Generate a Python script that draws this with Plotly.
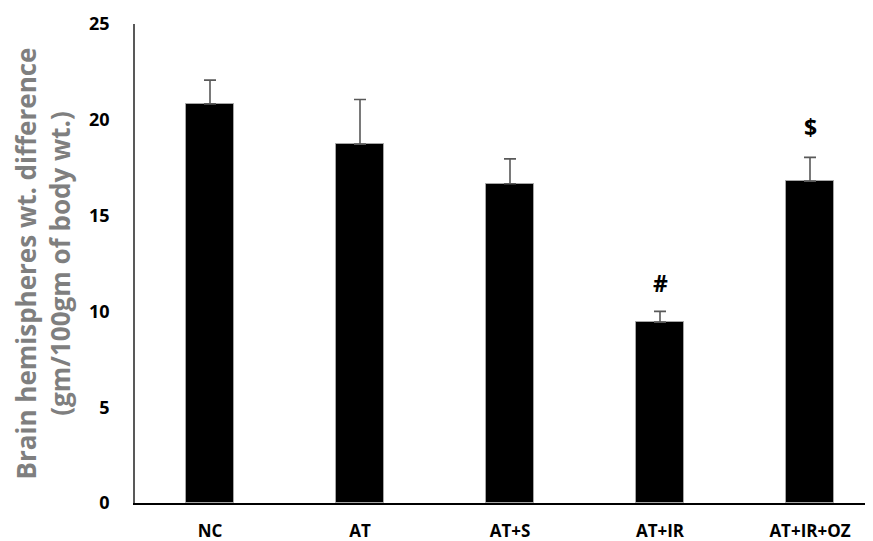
import plotly.graph_objects as go

categories = ["NC", "AT", "AT+S", "AT+IR", "AT+IR+OZ"]
means = [20.83, 18.73, 16.66, 9.44, 16.80]
errors = [1.24, 2.33, 1.30, 0.56, 1.24]
sig_labels = ["", "", "", "#", "$"]
sig_y = [None, None, None, 11.5, 19.6]
y_ticks = [0, 5, 10, 15, 20, 25]

FONT = "Open Sans"

fig = go.Figure()
fig.add_trace(go.Bar(
    x=categories, y=means, width=0.32,
    marker=dict(color="black", line=dict(color="#a6a6a6", width=1)),
    error_y=dict(type="data", array=errors, symmetric=False, arrayminus=[0]*5,
                 color="#595959", thickness=1.6, width=6),
    showlegend=False,
))

for c, lab, yy in zip(categories, sig_labels, sig_y):
    if lab:
        fig.add_annotation(x=c, y=yy, text=lab, showarrow=False,
                           font=dict(family=FONT, size=23, color="black", weight="bold"))

# page body has an 8px margin, so the figure is offset by (8, 8)
fig.update_layout(
    width=865, height=533,
    margin=dict(l=127, r=0, t=16, b=37.5, autoexpand=False),
    plot_bgcolor="white", paper_bgcolor="white",
    bargap=0,
)
fig.update_xaxes(
    range=[-0.5, 4.42], showline=True, linecolor="black", linewidth=2,
    ticks="", ticklabelstandoff=12, automargin=False,
    tickfont=dict(family=FONT, size=17, color="black", weight="bold"),
    showgrid=False, zeroline=False,
)
fig.update_yaxes(
    range=[0, 25], tickvals=y_ticks, showline=True, linecolor="#595959", linewidth=1.5,
    ticks="", ticklabelstandoff=20, showgrid=False, zeroline=False, automargin=False,
    tickfont=dict(family=FONT, size=18, color="black", weight="bold"),
    title=dict(text="Brain hemispheres wt. difference<br>(gm/100gm of body wt.)",
               font=dict(family=FONT, size=26, color="#7f7f7f", weight="bold"),
               standoff=12),
)

fig.write_html("out.html")
